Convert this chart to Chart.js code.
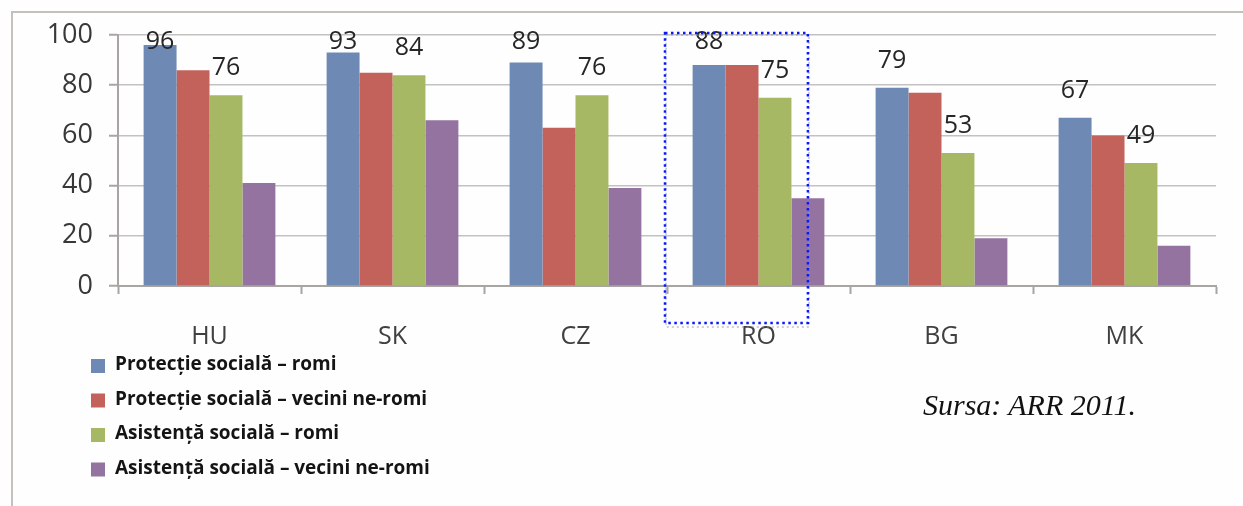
<!DOCTYPE html>
<html lang="ro">
<head>
<meta charset="utf-8">
<title>Protecție și asistență socială</title>
<script src="https://cdn.jsdelivr.net/npm/chart.js@4.4.1/dist/chart.umd.min.js"></script>
<style>
  html, body { margin: 0; padding: 0; background: #ffffff; }
  #wrap { position: relative; width: 1243px; height: 506px; overflow: hidden; background: #fefefe; }
  #frame { position: absolute; left: 11px; top: 11px; width: 1300px; height: 600px;
           border-top: 2px solid #c4c0bc; border-left: 2px solid #c4c0bc; }
  canvas { position: absolute; left: 0; top: 0; }
  #sursa { position: absolute; left: 923px; top: 390px; font-family: "Liberation Serif", "DejaVu Serif", serif;
           font-style: italic; font-size: 30px; color: #111; white-space: nowrap; line-height: 1; }
</style>
</head>
<body>
<div id="wrap">
  <div id="frame"></div>
  <canvas id="chart" width="1243" height="506"></canvas>
  <div id="sursa">Sursa: ARR 2011.</div>
</div>
<script>
// Countries on the category axis
const categories = ['HU', 'SK', 'CZ', 'RO', 'BG', 'MK'];

// Shares (%) per country for each series
const protectieRomi   = [96, 93, 89, 88, 79, 67];
const protectieVecini = [86, 85, 63, 88, 77, 60];
const asistentaRomi   = [76, 84, 76, 75, 53, 49];
const asistentaVecini = [41, 66, 39, 35, 19, 16];

const seriesNames = [
  'Protecție socială – romi',
  'Protecție socială – vecini ne-romi',
  'Asistență socială – romi',
  'Asistență socială – vecini ne-romi'
];
const seriesColors = ['#6e89b4', '#c3625a', '#a6b863', '#9573a0'];

// Value axis ticks
const yTicks = [0, 20, 40, 60, 80, 100];

// Series whose values are written above the bars
const labelledSeries = [0, 2];
// Category that is framed by the dotted outline
const highlighted = 'RO';

const FONT = '"Open Sans", "Noto Sans", sans-serif';
const AXIS_COLOR = '#a9a5a2';

// Value labels above selected bars, kept inside the plot top
const valueLabels = {
  id: 'valueLabels',
  afterDatasetsDraw(chart) {
    const ctx = chart.ctx;
    const top = chart.chartArea.top;
    ctx.save();
    ctx.font = '25px ' + FONT;
    ctx.fillStyle = '#262626';
    ctx.textAlign = 'center';
    ctx.textBaseline = 'middle';
    labelledSeries.forEach(di => {
      const meta = chart.getDatasetMeta(di);
      meta.data.forEach((bar, i) => {
        const v = chart.data.datasets[di].data[i];
        const y = Math.max(bar.y - 27, top + 7);
        ctx.fillText(String(v), bar.x, y);
      });
    });
    ctx.restore();
  }
};

// Dotted outline around one category
const highlightBox = {
  id: 'highlightBox',
  afterDraw(chart) {
    const xs = chart.scales.x, ys = chart.scales.y;
    const idx = categories.indexOf(highlighted);
    if (idx < 0) return;
    const cat = (xs.right - xs.left) / categories.length;
    const cx = xs.getPixelForValue(idx);
    const left = cx - cat / 2 - 2;
    const right = cx + cat * 0.27;
    const top = ys.getPixelForValue(100) - 2;
    const bottom = chart.chartArea.bottom + 37;
    const ctx = chart.ctx;
    ctx.save();
    // faint shadow
    ctx.strokeStyle = 'rgba(150,150,150,0.45)';
    ctx.lineWidth = 2;
    ctx.setLineDash([2, 3]);
    ctx.strokeRect(left + 1, top + 2, right - left, bottom - top + 2);
    ctx.strokeStyle = '#0b18ff';
    ctx.lineWidth = 2.5;
    ctx.setLineDash([2.5, 3.5]);
    ctx.strokeRect(left, top, right - left, bottom - top);
    ctx.restore();
  }
};

// Vertical legend under the category labels
const stackedLegend = {
  id: 'stackedLegend',
  afterDraw(chart) {
    const ctx = chart.ctx;
    const x0 = 91, y0 = 366, step = 34.5, box = 14;
    ctx.save();
    ctx.font = '700 19px ' + FONT;
    ctx.textBaseline = 'middle';
    ctx.textAlign = 'left';
    chart.data.datasets.forEach((ds, i) => {
      const y = y0 + i * step;
      ctx.fillStyle = ds.backgroundColor;
      ctx.fillRect(x0, y - box / 2, box, box);
      ctx.fillStyle = '#141414';
      ctx.fillText(ds.label, x0 + 24, y - 1);
    });
    ctx.restore();
  }
};

const seriesData = [protectieRomi, protectieVecini, asistentaRomi, asistentaVecini];

new Chart(document.getElementById('chart'), {
  type: 'bar',
  data: {
    labels: categories,
    datasets: seriesData.map((d, i) => ({
      label: seriesNames[i],
      data: d,
      backgroundColor: seriesColors[i],
      borderWidth: 0,
      categoryPercentage: 0.72,
      barPercentage: 1.0
    }))
  },
  options: {
    responsive: false,
    animation: false,
    devicePixelRatio: 1,
    layout: { padding: { left: 0, right: 27, top: 35, bottom: 150 } },
    plugins: {
      legend: { display: false },
      tooltip: { enabled: false }
    },
    scales: {
      x: {
        grid: {
          offset: true,
          drawOnChartArea: false,
          drawTicks: true,
          tickLength: 8,
          tickColor: AXIS_COLOR,
          tickWidth: 2
        },
        border: { display: true, color: AXIS_COLOR, width: 2 },
        ticks: { color: '#404040', font: { family: FONT, size: 25 }, padding: 28 },
        afterFit(scale) { scale.height = 70; }
      },
      y: {
        min: 0,
        max: 100,
        afterBuildTicks(scale) { scale.ticks = yTicks.map(v => ({ value: v })); },
        grid: {
          color: '#c2c2c2',
          lineWidth: 1.5,
          borderDash: [1, 2],
          drawTicks: true,
          tickLength: 9,
          tickColor: AXIS_COLOR,
          tickWidth: 2,
          tickBorderDash: []
        },
        border: { display: true, color: AXIS_COLOR, width: 2 },
        ticks: { color: '#383838', font: { family: FONT, size: 27 }, padding: 16 },
        afterFit(scale) { scale.width = 118; }
      }
    }
  },
  plugins: [valueLabels, highlightBox, stackedLegend]
});
</script>
</body>
</html>
